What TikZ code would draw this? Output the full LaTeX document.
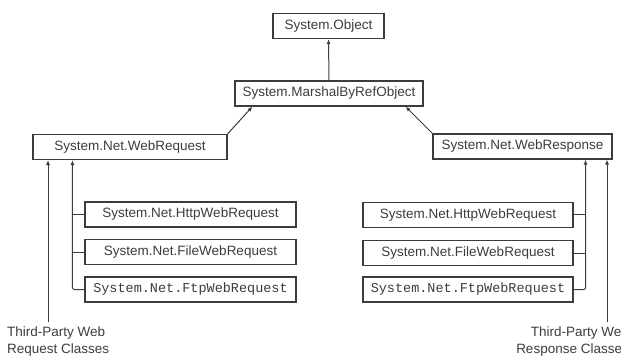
\documentclass[tikz,border=0pt]{standalone}
\usepackage{fontspec}
\setmainfont{Liberation Sans}
\setmonofont{Liberation Mono}
\usetikzlibrary{arrows.meta}
\definecolor{inkgray}{HTML}{3C3C3C}
\tikzset{
  classbox/.style={draw=inkgray, line width=1.1pt, text=inkgray, minimum height=25pt,
    inner sep=2pt, font=\fontsize{13.5}{15}\selectfont},
  link/.style={draw=inkgray, line width=1pt, -{Latex[length=5pt,width=4pt]}},
  branch/.style={draw=inkgray, line width=1pt},
  note/.style={text=inkgray, inner sep=2pt, font=\fontsize{13.5}{17}\selectfont}
}
\begin{document}
\begin{tikzpicture}[x=1pt,y=-1pt]
\useasboundingbox (0,0) rectangle (621,358);
% base classes
\node[classbox, minimum width=111pt] (object) at (328.5,26) {System.Object};
\node[classbox, minimum width=188pt] (marshal) at (329,93.5) {System.MarshalByRefObject};
\node[classbox, minimum width=194pt] (request) at (130,147) {System.Net.WebRequest};
\node[classbox, minimum width=179pt] (response) at (522.5,146.5) {System.Net.WebResponse};
% request side
\node[classbox, minimum width=211pt] (reqhttp) at (190.5,214.5) {System.Net.HttpWebRequest};
\node[classbox, minimum width=211pt] (reqfile) at (190.5,252) {System.Net.FileWebRequest};
\node[classbox, minimum width=211pt] (reqftp) at (190.5,289.5) {\ttfamily System.Net.FtpWebRequest};
% response side
\node[classbox, minimum width=210pt] (resphttp) at (468,215) {System.Net.HttpWebRequest};
\node[classbox, minimum width=210pt] (respfile) at (468,253) {System.Net.FileWebRequest};
\node[classbox, minimum width=210pt] (respftp) at (468,289.5) {\ttfamily System.Net.FtpWebRequest};
% third party
\coordinate (reqthird) at (48,322);
\coordinate (respthird) at (607,322);
\node[note, anchor=north west, align=left] (reqthirdtext) at (5,325) {Third-Party Web\\Request Classes};
\node[note, anchor=north east, align=right] (respthirdtext) at (631,325) {Third-Party Web\\Response Classes};

\draw[link] (marshal.north) -- (object.south);
\draw[link] (request.north east) -- ([xshift=18pt]marshal.south west);
\draw[link] (response.north west) -- ([xshift=-18pt]marshal.south east);

\draw[link, rounded corners=2pt] (reqftp.west) -| ([xshift=40pt]request.south west);
\draw[branch] (reqhttp.west) -- ++(-12,0);
\draw[branch] (reqfile.west) -- ++(-12,0);
\draw[link] (reqthird) -- (reqthird |- request.south);

\draw[link, rounded corners=2pt] (respftp.east) -| ([xshift=-27pt]response.south east);
\draw[branch] (resphttp.east) -- ++(12,0);
\draw[branch] (respfile.east) -- ++(12,0);
\draw[link] (respthird) -- (respthird |- response.south);
\end{tikzpicture}
\end{document}
